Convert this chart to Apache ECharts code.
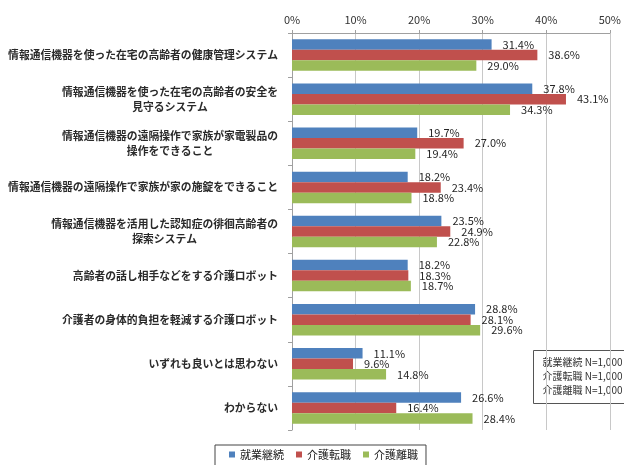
<!DOCTYPE html>
<html><head><meta charset="utf-8">
<script src="https://cdn.jsdelivr.net/npm/echarts@6/dist/echarts.min.js"></script>
<style>html,body{margin:0;padding:0;background:#fff}#c{width:624px;height:465px}</style>
</head><body><div id="c"></div>
<script>
var categories = [
  "情報通信機器を使った在宅の高齢者の健康管理システム",
  "情報通信機器を使った在宅の高齢者の安全を\n見守るシステム",
  "情報通信機器の遠隔操作で家族が家電製品の\n操作をできること",
  "情報通信機器の遠隔操作で家族が家の施錠をできること",
  "情報通信機器を活用した認知症の徘徊高齢者の\n探索システム",
  "高齢者の話し相手などをする介護ロボット",
  "介護者の身体的負担を軽減する介護ロボット",
  "いずれも良いとは思わない",
  "わからない"
];
var seriesNames = ["就業継続", "介護転職", "介護離職"];
var employed = [31.4, 37.8, 19.7, 18.2, 23.5, 18.2, 28.8, 11.1, 26.6];
var careChange = [38.6, 43.1, 27.0, 23.4, 24.9, 18.3, 28.1, 9.6, 16.4];
var careLeave = [29.0, 34.3, 19.4, 18.8, 22.8, 18.7, 29.6, 14.8, 28.4];
var xTicks = [0, 10, 20, 30, 40, 50];
var noteLines = ["就業継続 N=1,000", "介護転職 N=1,000", "介護離職 N=1,000"];

var FONT = '"Noto Sans CJK JP", "Noto Sans", sans-serif';
var colors = ['#4f81bd', '#c0504d', '#9bbb59'];
var catFontSize = 10.8;
var catWeight = 'bold';

var cv = document.createElement('canvas').getContext('2d');
cv.font = catWeight + ' ' + catFontSize + 'px ' + FONT;
function tw(s) { return cv.measureText(s).width; }

// centre shorter lines under the widest one by padding both sides with en spaces
function centreLines(v) {
  var lines = v.split('\n');
  if (lines.length < 2) return v;
  var W = Math.max.apply(null, lines.map(tw));
  var sp = '\u2002', spW = tw(sp) || catFontSize / 2;
  return lines.map(function (l) {
    var pad = (W - tw(l)) / 2;
    var s = new Array(Math.round(pad / spW) + 1).join(sp);
    return s + l + s;
  }).join('\n');
}

function mkSeries(name, data, i) {
  return {
    name: name, type: 'bar', data: data,
    barWidth: 10.5, barGap: '0%',
    itemStyle: { color: colors[i] },
    label: {
      show: true, position: 'right', distance: 11,
      formatter: function (p) { return p.value.toFixed(1) + '%'; },
      fontFamily: FONT, fontSize: 11, color: '#262626'
    }
  };
}

var chart = echarts.init(document.getElementById('c'), null, { renderer: 'canvas' });
chart.setOption({
  animation: false,
  backgroundColor: '#fff',
  grid: { left: 292, right: 8.5, top: 33, bottom: 35, containLabel: false },
  xAxis: {
    type: 'value', position: 'top', min: xTicks[0], max: xTicks[xTicks.length - 1], interval: 10,
    axisLine: { show: true, lineStyle: { color: '#a0a0a0' } },
    axisTick: { show: true, length: 3, lineStyle: { color: '#a0a0a0' } },
    axisLabel: { formatter: '{value}%', fontFamily: FONT, fontSize: 11, color: '#333', margin: 8 },
    splitLine: { show: true, lineStyle: { color: '#c8c8c8' } }
  },
  yAxis: {
    type: 'category', data: categories, inverse: true,
    axisLine: { show: true, lineStyle: { color: '#a0a0a0' } },
    axisTick: { show: true, length: 4, lineStyle: { color: '#a0a0a0' } },
    axisLabel: {
      margin: 14, align: 'right', formatter: centreLines,
      fontFamily: FONT, fontSize: catFontSize, fontWeight: catWeight, color: '#2a2a2a', lineHeight: 15
    }
  },
  legend: {
    data: seriesNames, left: 215, top: 445,
    padding: [4, 8, 14, 14], itemGap: 12, itemWidth: 6, itemHeight: 6, icon: 'rect',
    borderColor: '#444', borderWidth: 1,
    textStyle: { fontFamily: FONT, fontSize: 11, color: '#222' }
  },
  series: [mkSeries(seriesNames[0], employed, 0), mkSeries(seriesNames[1], careChange, 1), mkSeries(seriesNames[2], careLeave, 2)],
  graphic: [{
    type: 'group', left: 533, top: 350,
    children: [
      { type: 'rect', shape: { x: 0, y: 0, width: 110, height: 53 }, style: { fill: '#fff', stroke: '#555', lineWidth: 1 } }
    ].concat(noteLines.map(function (t, i) {
      return { type: 'text', x: 9, y: 7 + i * 14, style: { text: t, font: '10px ' + FONT, fill: '#333' } };
    }))
  }]
});
</script>
</body></html>
